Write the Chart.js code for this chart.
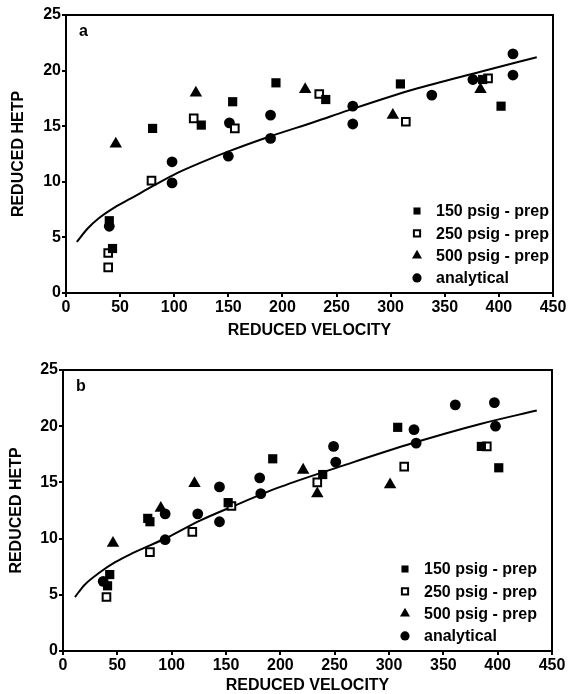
<!DOCTYPE html>
<html>
<head>
<meta charset="utf-8">
<script src="https://cdn.jsdelivr.net/npm/chart.js@4.4.1/dist/chart.umd.min.js"></script>
<style>
    html, body { margin: 0; padding: 0; background: #fff; }
    #wrap-a { position: absolute; left: 0; top: 0; width: 568px; height: 345px; }
    #wrap-b { position: absolute; left: 0; top: 345px; width: 568px; height: 349px; }
</style>
</head>
<body>
<div id="wrap-a"><canvas id="chart-a"></canvas></div>
<div id="wrap-b"><canvas id="chart-b"></canvas></div>
<script>
// Panel a - reduced velocity vs reduced HETP
const velA150 = [40, 43, 80, 125, 154, 194, 240, 309, 385, 402];
const hetpA150 = [6.5, 4.0, 14.8, 15.1, 17.2, 18.9, 17.4, 18.8, 19.2, 16.8];
const velA250 = [39, 39, 79, 118, 156, 234, 314, 390];
const hetpA250 = [3.6, 2.3, 10.1, 15.7, 14.8, 17.9, 15.4, 19.3];
const velA500 = [46, 120, 221, 302, 383];
const hetpA500 = [13.4, 18.0, 18.3, 16.0, 18.3];
const velAan = [40, 98, 98, 150, 151, 189, 189, 265, 265, 338, 376, 413, 413];
const hetpAan = [6.0, 11.8, 9.9, 12.3, 15.3, 16.0, 13.9, 16.8, 15.2, 17.8, 19.2, 21.5, 19.6];
const fitVelA = [10, 20, 30, 45, 60, 80, 103, 124, 152, 189, 230, 260, 321, 383, 435];
const fitHetpA = [4.6, 5.8, 6.7, 7.7, 8.5, 9.6, 10.8, 11.7, 12.8, 14.1, 15.4, 16.4, 18.3, 19.9, 21.2];

// Panel b
const velB150 = [41, 43, 78, 80, 152, 193, 239, 308, 385, 401];
const hetpB150 = [5.8, 6.8, 11.8, 11.5, 13.2, 17.1, 15.7, 19.9, 18.2, 16.3];
const velB250 = [40, 80, 119, 155, 234, 314, 390];
const hetpB250 = [4.8, 8.8, 10.6, 12.9, 15.0, 16.4, 18.2];
const velB500 = [46, 90, 121, 221, 234, 301];
const hetpB500 = [9.6, 12.7, 14.9, 16.1, 14.0, 14.8];
const velBan = [37, 94, 94, 124, 144, 144, 181, 182, 249, 251, 323, 325, 361, 397, 398];
const hetpBan = [6.2, 12.2, 9.9, 12.2, 11.5, 14.6, 15.4, 14.0, 18.2, 16.8, 19.7, 18.5, 21.9, 22.1, 20.0];
const fitVelB = [11, 20, 34, 48, 64, 96, 126, 157, 200, 261, 322, 384, 436];
const fitHetpB = [4.8, 5.9, 7.0, 7.9, 8.7, 10.1, 11.6, 12.9, 14.6, 16.6, 18.5, 20.2, 21.4];

const seriesNames = ["150 psig - prep", "250 psig - prep", "500 psig - prep", "analytical"];
const xTicks = [0, 50, 100, 150, 200, 250, 300, 350, 400, 450];
const yTicks = [0, 5, 10, 15, 20, 25];

const FONT = "'Liberation Sans', Arial, Helvetica, sans-serif";
Chart.defaults.font.family = FONT;
Chart.defaults.color = "#000";

const pts = (xs, ys) => xs.map((x, i) => ({ x, y: ys[i] }));

// marker styles for each series (legend uses smaller copies)
const styles = [
    { pointStyle: "rect", radius: 6.5, legendRadius: 5, fill: "#000", border: 0 },
    { pointStyle: "rect", radius: 5.4, legendRadius: 4.4, fill: "#fff", border: 2 },
    { pointStyle: "triangle", radius: 7.2, legendRadius: 5.8, fill: "#000", border: 0 },
    { pointStyle: "circle", radius: 5.4, legendRadius: 4.6, fill: "#000", border: 0 },
];

// frame, panel letter and legend drawn inside the plot area
const panelDecor = {
    id: "panelDecor",
    afterDatasetsDraw(chart, args, opts) {
        const { ctx, chartArea: a } = chart;
        ctx.save();
        ctx.strokeStyle = "#000";
        ctx.lineWidth = 2;
        ctx.strokeRect(a.left, a.top, a.right - a.left, a.bottom - a.top);

        ctx.fillStyle = "#000";
        ctx.font = `bold 16px ${FONT}`;
        ctx.textBaseline = "middle";
        ctx.textAlign = "left";
        ctx.fillText(opts.label, a.left + 13, a.top + 17);

        const mx = a.right + opts.legendDx;
        seriesNames.forEach((name, i) => {
            const y = a.bottom - 82 + i * 22.3;
            const s = styles[i];
            ctx.fillStyle = s.fill;
            ctx.strokeStyle = "#000";
            ctx.lineWidth = s.border;
            Chart.helpers.drawPoint(
                ctx,
                { pointStyle: s.pointStyle, radius: s.legendRadius, rotation: 0, borderWidth: s.border },
                mx,
                y
            );
            ctx.fillStyle = "#000";
            ctx.fillText(name, mx + 19, y + 1);
        });
        ctx.restore();
    },
};

const makePanel = (id, p) => {
    const sets = [p.s150, p.s250, p.s500, p.san].map((data, i) => ({
        label: seriesNames[i],
        data,
        pointStyle: styles[i].pointStyle,
        pointRadius: styles[i].radius,
        pointBackgroundColor: styles[i].fill,
        pointBorderColor: "#000",
        pointBorderWidth: styles[i].border,
        showLine: false,
    }));
    sets.push({
        label: "fit",
        data: p.fit,
        showLine: true,
        borderColor: "#000",
        borderWidth: 2,
        pointRadius: 0,
        cubicInterpolationMode: "monotone",
        fill: false,
    });

    return new Chart(document.getElementById(id), {
        type: "scatter",
        data: { datasets: sets },
        options: {
            responsive: true,
            maintainAspectRatio: false,
            animation: false,
            layout: { padding: { top: p.padTop, right: p.padRight, left: 0, bottom: 0 } },
            scales: {
                x: {
                    type: "linear",
                    min: 0,
                    max: 450,
                    afterBuildTicks: (s) => { s.ticks = xTicks.map((v) => ({ value: v })); },
                    afterFit: (s) => { s.height = p.xHeight; },
                    border: { display: true, color: "#000", width: 2 },
                    grid: { drawOnChartArea: false, drawTicks: true, tickLength: 4, color: "#000", lineWidth: 2 },
                    ticks: { padding: 1, maxRotation: 0, font: { size: 16, weight: "bold" }, color: "#000" },
                    title: {
                        display: true,
                        text: "REDUCED VELOCITY",
                        font: { size: 16, weight: "bold", lineHeight: 1 },
                        padding: { top: 0, bottom: p.xTitlePad },
                        color: "#000",
                    },
                },
                y: {
                    min: 0,
                    max: 25,
                    afterBuildTicks: (s) => { s.ticks = yTicks.map((v) => ({ value: v })); },
                    afterFit: (s) => { s.width = p.yWidth; },
                    border: { display: true, color: "#000", width: 2 },
                    grid: { drawOnChartArea: false, drawTicks: true, tickLength: 4, color: "#000", lineWidth: 2 },
                    ticks: { padding: 1, font: { size: 16, weight: "bold" }, color: "#000" },
                    title: {
                        display: true,
                        text: "REDUCED HETP",
                        font: { size: 16, weight: "bold", lineHeight: 1 },
                        padding: { top: p.yTitlePad, bottom: 0 },
                        color: "#000",
                    },
                },
            },
            plugins: {
                legend: { display: false },
                tooltip: { enabled: false },
                panelDecor: { label: p.label, legendDx: p.legendDx },
            },
        },
        plugins: [panelDecor],
    });
};

makePanel("chart-a", {
    s150: pts(velA150, hetpA150),
    s250: pts(velA250, hetpA250),
    s500: pts(velA500, hetpA500),
    san: pts(velAan, hetpAan),
    fit: pts(fitVelA, fitHetpA),
    label: "a",
    padTop: 15,
    padRight: 15,
    yWidth: 66,
    xHeight: 52,
    xTitlePad: 6,
    yTitlePad: 11,
    legendDx: -136,
});

makePanel("chart-b", {
    s150: pts(velB150, hetpB150),
    s250: pts(velB250, hetpB250),
    s500: pts(velB500, hetpB500),
    san: pts(velBan, hetpBan),
    fit: pts(fitVelB, fitHetpB),
    label: "b",
    padTop: 25,
    padRight: 16,
    yWidth: 63,
    xHeight: 43,
    xTitlePad: 0,
    yTitlePad: 9,
    legendDx: -147,
});
</script>
</body>
</html>
